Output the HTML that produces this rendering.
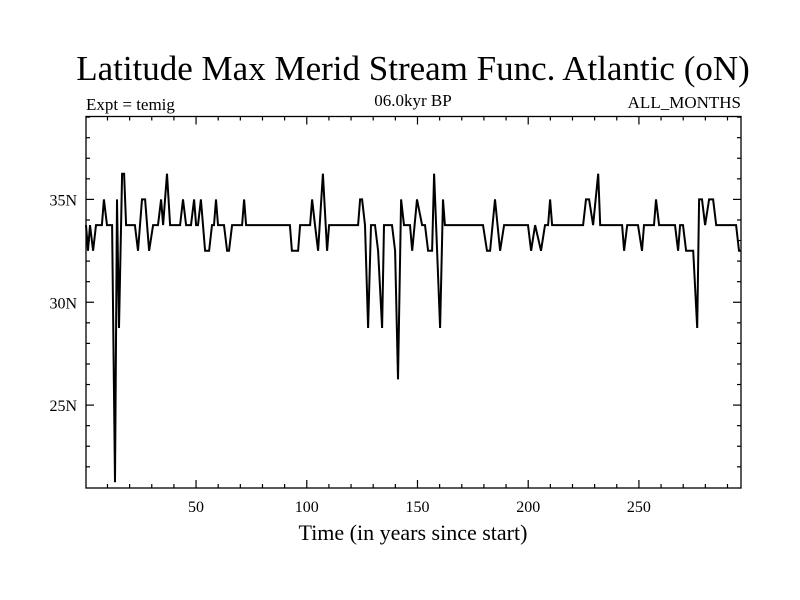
<!DOCTYPE html>
<html><head><meta charset="utf-8"><style>
body{margin:0;background:#fff}
svg{display:block}
text{font-family:"Liberation Serif","DejaVu Serif",serif;fill:#000}
</style></head><body>
<svg id="chart" width="800" height="600" viewBox="0 0 800 600" xmlns="http://www.w3.org/2000/svg">
<rect width="800" height="600" fill="#fff"/>
<text x="413" y="80" font-size="35" text-anchor="middle">Latitude Max Merid Stream Func. Atlantic (oN)</text>
<text x="86" y="110" font-size="17">Expt = temig</text>
<text x="413" y="106" font-size="17" text-anchor="middle">06.0kyr BP</text>
<text x="741" y="108" font-size="17" text-anchor="end">ALL_MONTHS</text>
<text x="413" y="540" font-size="22" text-anchor="middle">Time (in years since start)</text>
<g id="axes"></g>
<polyline id="series" fill="none" stroke="#000" stroke-width="2" stroke-linejoin="miter"/>
<rect x="86" y="116.5" width="655" height="371.5" fill="none" stroke="#000" stroke-width="1.3"/>
</svg>
<script>
const years = [0.3,1.2,2.1,3.5,4.8,7.5,8.4,9.8,12.1,13.4,14.3,15.2,16.6,17.5,18.4,22.4,23.8,25.6,27.0,28.8,30.6,32.8,34.2,35.1,36.9,38.3,42.8,44.1,45.5,47.7,49.1,50.0,50.9,52.2,54.1,55.9,57.2,58.1,59.0,59.9,62.6,64.0,64.9,66.3,70.8,71.7,72.6,92.4,93.3,96.1,97.0,101.5,102.4,103.7,105.1,107.3,109.2,110.1,123.2,124.1,125.0,126.3,127.7,129.0,130.8,132.2,134.0,134.9,138.5,139.9,141.2,142.6,143.9,146.6,147.6,149.8,152.1,153.4,154.8,156.6,157.5,160.2,161.5,162.4,179.6,181.4,182.8,185.0,187.3,189.1,199.9,201.3,203.1,205.8,207.6,209.0,209.9,210.8,224.8,226.1,227.5,229.3,231.6,232.5,242.4,243.3,244.7,249.6,251.4,252.3,256.8,257.7,259.1,266.3,267.7,268.6,269.9,271.3,274.5,276.3,277.2,278.5,279.9,281.7,283.5,284.9,293.9,295.2,296.1];
const latitudes = [33.75,32.5,33.75,32.5,33.75,33.75,35,33.75,33.75,21.25,35,28.75,36.25,36.25,33.75,33.75,32.5,35,35,32.5,33.75,33.75,35,33.75,36.25,33.75,33.75,35,33.75,33.75,35,33.75,33.75,35,32.5,32.5,33.75,33.75,35,33.75,33.75,32.5,32.5,33.75,33.75,35,33.75,33.75,32.5,32.5,33.75,33.75,35,33.75,32.5,36.25,32.5,33.75,33.75,35,35,33.75,28.75,33.75,33.75,32.5,28.75,33.75,33.75,32.5,26.25,35,33.75,33.75,32.5,35,33.75,33.75,32.5,32.5,36.25,28.75,35,33.75,33.75,32.5,32.5,35,32.5,33.75,33.75,32.5,33.75,32.5,33.75,33.75,35,33.75,33.75,35,35,33.75,36.25,33.75,33.75,32.5,33.75,33.75,32.5,33.75,33.75,35,33.75,33.75,32.5,33.75,33.75,32.5,32.5,28.75,35,35,33.75,35,35,33.75,33.75,32.5,32.5];
const xTicks = [50,100,150,200,250];
const yTicks = [25,30,35];
const yTickLabels = ["25N","30N","35N"];
const xMin=0.3,xMax=296.1,yMin=20.97,yMax=39.03;
const L=86,R=741,T=116.5,B=488;
const X=v=>L+(v-xMin)/(xMax-xMin)*(R-L);
const Y=v=>B-(v-yMin)/(yMax-yMin)*(B-T);
const NS="http://www.w3.org/2000/svg";
const axes=document.getElementById('axes');
function line(x1,y1,x2,y2,name){const l=document.createElementNS(NS,'line');l.setAttribute('x1',x1);l.setAttribute('y1',y1);l.setAttribute('x2',x2);l.setAttribute('y2',y2);l.setAttribute('stroke','#000');l.setAttribute('stroke-width','1.2');


axes.appendChild(l);}
function txt(x,y,s,anchor,name){const t=document.createElementNS(NS,'text');t.setAttribute('x',x);t.setAttribute('y',y);t.setAttribute('font-size','16');t.setAttribute('text-anchor',anchor);t.textContent=s;


axes.appendChild(t);}
for(let v=10;v<=290;v+=10){const x=X(v);const major=xTicks.includes(v);const len=major?8:4;
line(x,B,x,B-len,major?'x-major-tick':'x-minor-tick');line(x,T,x,T+len,major?'x-major-tick-top':'x-minor-tick-top');}
xTicks.forEach(v=>txt(X(v),512,String(v),'middle','x-tick-label'));
for(let v=22;v<=39;v++){const y=Y(v);const major=yTicks.includes(v);const len=major?8:4;
line(L,y,L+len,y,major?'y-major-tick':'y-minor-tick');line(R,y,R-len,y,major?'y-major-tick-right':'y-minor-tick-right');}
yTicks.forEach((v,i)=>txt(77,Y(v)+6,yTickLabels[i],'end','y-tick-label'));
document.getElementById('series').setAttribute('points',years.map((t,i)=>X(t).toFixed(1)+','+Y(latitudes[i]).toFixed(1)).join(' '));
</script>
</body></html>
